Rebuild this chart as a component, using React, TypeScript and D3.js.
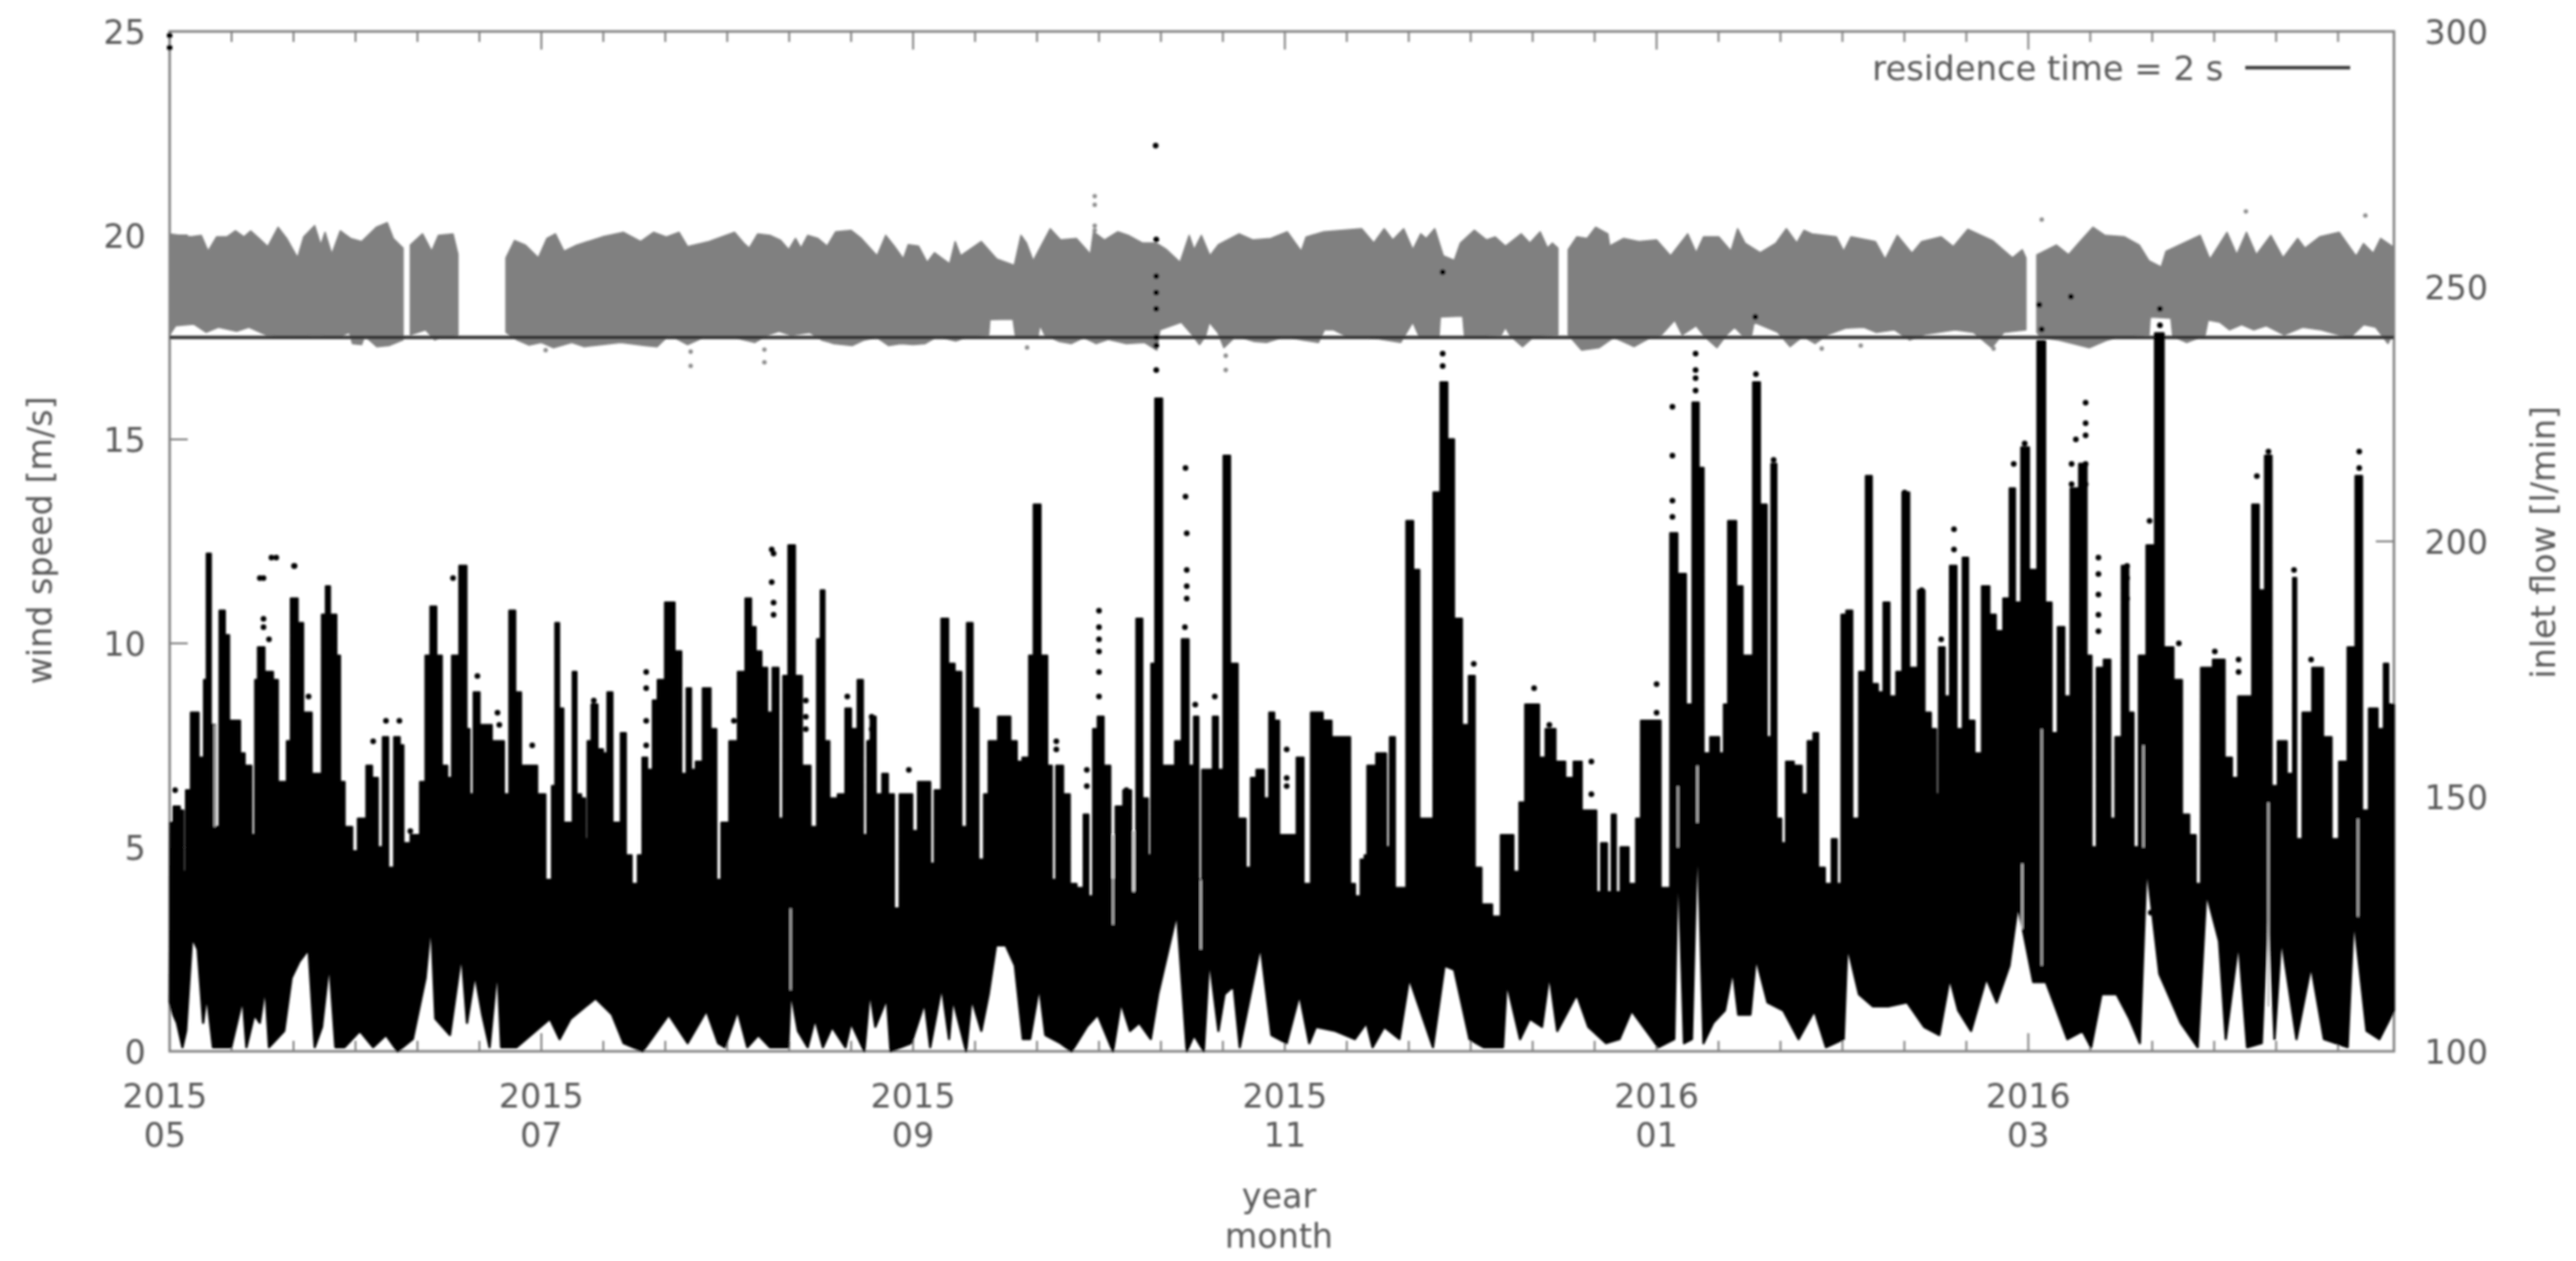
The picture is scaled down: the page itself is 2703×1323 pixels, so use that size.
import React from "react";
import * as d3 from "d3";

// day = days since 2015-05-01; wind speed in m/s; flow in l/min
const xMajorDays = [0, 61, 122, 183, 244, 305];
const xYears = ["2015", "2015", "2015", "2015", "2016", "2016"];
const xMonths = ["05", "07", "09", "11", "01", "03"];
const legendLabel = "residence time = 2 s";
const residenceFlow = 240;

const windTop: number[][] = [
[0.1,5.6],[1.2,6.0],[2.1,5.9],[2.4,4.4],[3.0,6.4],[4.0,8.3],[5.5,7.2],[5.8,9.1],[6.4,12.2],[7.1,8.0],[7.8,5.5],[8.6,10.8],[9.5,10.2],[10.0,8.1],[11.4,8.1],[11.7,7.3],[12.9,7.0],[13.9,5.3],[14.2,9.1],[14.8,9.9],[16.3,9.3],[17.6,9.1],[17.9,6.6],[19.1,6.6],[19.4,7.6],[20.4,11.1],[21.6,10.5],[22.2,8.3],[24.4,6.8],[25.6,10.7],[25.7,11.4],[26.9,10.7],[27.8,9.7],[28.1,6.6],[29.3,5.5],[30.6,4.9],[31.2,5.7],[31.9,5.7],[32.7,7.0],[33.7,6.7],[34.6,5.0],[35.4,7.7],[36.3,4.5],[37.4,7.7],[38.1,7.5],[38.6,5.1],[40.5,5.3],[41.7,6.6],[42.3,9.7],[43.3,10.9],[44.2,9.7],[45.1,7.0],[46.0,6.7],[46.7,9.7],[48.4,11.9],[49.0,7.9],[49.4,6.3],[50.4,8.8],[51.3,8.0],[54.4,7.6],[55.3,6.3],[56.2,10.8],[57.2,8.8],[58.1,7.0],[59.7,7.0],[60.9,6.3],[62.4,4.2],[63.1,6.5],[63.5,10.5],[64.3,8.4],[64.9,5.6],[65.8,5.6],[66.5,9.3],[67.0,6.3],[68.0,6.2],[68.3,5.2],[68.9,7.6],[69.6,8.5],[70.8,7.4],[71.4,7.3],[72.3,8.8],[73.0,5.6],[73.6,5.6],[74.5,7.8],[75.2,4.8],[76.4,4.1],[77.3,4.8],[77.9,7.2],[78.8,6.9],[79.8,8.6],[80.4,9.1],[82.2,11.0],[83.5,9.8],[84.4,6.8],[85.3,8.9],[85.8,6.9],[86.9,7.1],[88.1,8.9],[89.4,7.9],[90.0,4.2],[91.1,5.6],
[92.6,7.6],[93.9,9.3],[95.1,11.1],[95.7,10.4],[96.6,9.8],[97.6,9.4],[98.5,8.3],[99.4,9.4],[100.4,5.7],[101.0,9.2],[102.1,12.4],[103.1,9.2],[104.4,7.0],[105.9,5.5],[106.6,10.1],[107.1,11.3],[107.8,7.6],[108.7,6.2],[110.6,6.3],[111.2,8.4],[112.4,7.9],[113.4,9.1],[114.1,5.3],[114.9,7.6],[115.2,8.2],[116.5,6.3],[117.4,6.8],[118.3,6.3],[119.4,3.5],[120.2,6.3],[121.4,6.3],[122.3,5.4],[123.3,6.6],[124.5,6.6],[125.1,4.6],[126.0,6.4],[127.3,10.6],[128.2,9.5],[129.4,9.3],[130.4,5.5],[131.3,10.5],[132.2,8.4],[133.2,4.7],[134.1,6.3],[134.7,7.6],[137.2,8.2],[138.7,7.6],[139.3,7.1],[140.6,7.2],[141.5,9.7],[142.1,13.4],[143.7,9.7],[144.3,7.0],[145.2,4.2],[145.8,7.0],[147.4,6.3],[148.0,4.1],[149.6,4.0],[150.4,5.8],[151.1,3.8],[152.0,7.9],[152.6,8.2],[153.9,7.0],[154.8,4.2],[155.7,6.0],[157.3,6.4],[158.2,3.9],[159.1,10.6],[160.1,6.2],[160.9,4.8],[161.3,9.5],[162.2,16.0],[163.5,7.0],[164.4,7.0],[165.6,7.6],[166.6,10.1],[167.8,7.0],[168.4,8.2],[169.2,4.2],[169.7,6.9],[170.9,6.9],[171.5,8.2],[172.5,6.9],[173.4,14.6],[174.6,9.5],[175.9,5.7],[177.2,4.5],[177.7,6.7],[179.0,6.9],[180.1,6.2],[180.8,8.3],[181.7,8.1],[182.4,5.3],[184.5,5.3],[185.4,7.2],[186.7,4.1],[187.9,8.3],
[188.1,8.3],[190.3,8.1],[191.0,7.7],[193.5,7.7],[193.9,4.1],[195.1,3.8],[195.8,4.7],[196.4,4.8],[196.7,7.0],[199.3,7.3],[199.9,5.0],[200.6,7.7],[201.5,4.0],[202.5,4.0],[203.4,13.0],[204.7,11.8],[205.4,5.7],[206.9,5.7],[207.9,13.7],[209.2,16.4],[210.1,15.0],[211.4,10.6],[212.7,8.0],[213.7,9.2],[214.6,4.5],[215.9,3.6],[218.1,3.3],[218.8,5.3],[220.0,5.3],[221.0,4.4],[222.0,6.1],[222.9,8.5],[224.2,8.5],[225.2,7.2],[226.4,7.9],[228.4,7.1],[229.6,6.7],[231.2,7.1],[232.2,5.9],[233.8,5.9],[234.4,3.9],[235.4,5.1],[236.3,3.9],[237.0,5.8],[237.6,3.9],[238.6,5.0],[240.2,4.1],[241.1,5.7],[241.8,8.1],[244.3,8.1],[245.0,4.0],[245.9,4.0],[246.6,12.7],[248.2,11.7],[249.4,8.5],[250.4,15.9],[251.4,14.3],[252.0,7.3],[253.6,7.7],[254.9,7.3],[255.2,8.5],[256.3,13.0],[257.8,11.4],[258.4,9.7],[259.4,9.7],[260.3,16.4],[261.6,13.4],[262.5,7.7],[263.2,14.4],[264.1,5.7],[264.8,5.1],[265.7,7.1],[267.3,7.0],[268.3,6.3],[269.3,7.6],[270.2,7.8],[270.8,4.5],[272.4,4.1],[273.1,5.2],[274.0,4.1],[274.7,10.7],[275.6,10.8],[276.6,5.7],[277.9,9.3],[278.8,14.1],[279.8,9.0],[280.8,8.8],[281.7,11.0],[282.7,8.7],[284.0,9.3],[284.7,13.7],
[286.2,9.4],[287.6,11.3],[288.3,8.3],[289.7,7.9],[290.0,6.3],[290.7,9.9],[291.8,8.7],[292.5,11.9],[293.9,7.9],[294.6,12.1],[295.6,8.1],[296.7,7.3],[298.1,11.4],[299.1,10.7],[300.2,10.3],[301.6,11.1],[302.3,13.8],[303.3,11.0],[304.4,14.8],[305.8,11.8],[307.2,17.4],[308.3,11.0],[309.3,7.8],[310.4,10.4],[311.4,8.7],[312.5,13.8],[314.2,14.4],[314.9,9.7],[315.8,5.0],[316.7,9.4],[318.1,9.6],[318.8,5.7],[319.8,7.7],[320.9,11.9],[321.9,8.3],[322.6,5.0],[323.7,9.7],[325.1,12.4],[326.5,17.6],[327.9,9.9],[329.7,9.1],[330.7,5.8],[332.1,5.3],[332.8,4.1],[333.9,9.4],[336.7,9.6],[337.7,7.2],[339.1,6.7],[339.8,8.7],[341.2,8.7],[342.3,13.4],[343.3,11.3],[344.4,14.6],[345.4,6.5],[346.5,7.6],[348.3,6.8],[348.6,11.6],[349.3,5.2],[350.7,8.3],[352.5,9.4],[354.2,7.7],[355.3,5.2],[356.7,7.1],[358.1,9.9],[359.3,14.1],[360.2,5.9],[361.6,8.4],[363.0,7.9],[363.7,9.5],[364.4,8.5],[365.0,8.5]];

const windBottom: number[][] = [
[0,1.2],[0.6,0.9],[1.2,0.7],[2.1,0.1],[2.7,0.5],[3.7,2.8],[4.6,2.5],[5.5,0.7],[6.1,1.4],[7.1,0.1],[10.1,0.1],[12.0,1.3],[12.6,0.1],[13.9,0.9],[14.8,0.7],[15.7,1.6],[16.3,0.1],[18.8,0.5],[20.0,1.8],[21.3,2.2],[22.8,2.5],[23.8,0.1],[25.0,0.6],[26.2,2.2],[27.2,0.1],[28.7,0.1],[31.2,0.5],[33.4,0.1],[35.5,0.4],[37.4,0],[39.9,0.3],[42.0,1.8],[42.9,3.2],[43.6,0.8],[46.0,0.4],[47.9,2.4],[48.8,0.7],[50.1,1.9],[51.3,0.9],[52.5,0.1],[53.8,2.1],[54.4,0.1],[56.9,0.1],[62.4,0.8],[64.0,0.3],[65.8,0.8],[69.9,1.3],[72.6,0.9],[74.5,0.2],[77.6,0],[81.9,0.9],[85.0,0.2],[88.1,1.0],[90.0,0.2],
[91.1,0.1],[93.2,1.0],[94.8,0.1],[96.6,0.4],[98.5,0.1],[101.5,0.1],[101.9,1.5],[103.1,0.5],[104.7,0.1],[105.9,0.8],[107.2,0.1],[108.7,0.6],[110.9,0.1],[111.8,0.7],[114.0,0],[114.9,1.5],[115.8,0.6],[117.7,1.3],[118.3,0],[121.7,0.2],[123.9,1.2],[124.8,0.1],[126.7,1.6],[127.9,0.3],[128.5,1.3],[130.7,0],[131.6,1.3],[133.2,0.5],[134.4,1.4],[135.6,2.6],[137.2,2.6],[138.7,2.1],[140.0,0.3],[141.2,0.3],[142.7,1.6],[143.7,0.4],[146.2,0.2],[148.0,0],[150.5,0.6],[152.3,0.9],[154.8,0],[156.1,1.2],[157.6,0.5],[159.1,0.7],[161.0,0.3],[162.2,1.4],[165.3,3.4],[166.9,0],[168.1,0.4],[169.7,0],[170.6,2.3],[172.1,0.5],[173.1,1.4],[174.6,1.6],[175.6,0.1],[179.0,2.6],[180.8,0.4],[183.3,0.2],[185.4,1.4],[187.0,0.2],
[188.1,0.6],[191.3,0.5],[194.5,0.3],[196.4,0.7],[197.4,0.1],[199.3,0.6],[201.8,0.3],[203.4,1.8],[207.3,0.1],[209.2,2.1],[210.8,2.0],[213.3,0.3],[215.6,0.1],[218.8,0.1],[219.4,1.7],[221.6,0.3],[223.2,0.8],[225.2,0.6],[226.4,1.9],[227.7,0.5],[230.9,1.4],[232.8,0.6],[235.7,0.2],[237.9,0.3],[239.9,1.0],[244.3,0.1],[246.9,0.3],[247.5,5.0],[248.5,0.2],[249.8,0.3],[250.7,5.6],[251.7,0.2],[253.3,0.7],[255.2,1.0],[256.5,2.0],[257.4,0.9],[259.4,0.9],[260.3,2.3],[262.2,1.2],[264.8,1.0],[267.3,0.3],[269.9,1.0],[271.8,0.1],[274.7,0.3],[275.3,2.6],[277.2,1.4],[279.5,1.1],[282.0,1.1],
[285.1,1.2],[287.9,0.6],[290.4,0.4],[292.1,1.8],[293.5,1.0],[295.6,0.5],[298.1,1.8],[299.8,1.2],[301.9,2.1],[303.3,3.6],[305.8,1.7],[307.9,1.7],[311.4,0.3],[313.9,0.5],[315.3,0.1],[317.0,1.4],[319.5,1.4],[321.6,0.8],[323.3,0.2],[324.4,4.6],[326.5,1.9],[330.0,0.7],[332.8,0.1],[334.2,3.9],[336.3,2.7],[337.4,0.3],[339.5,2.7],[340.9,0.1],[343.3,0.2],[344.4,4.0],[345.4,0.3],[346.5,2.8],[349.0,0.3],[351.4,2.1],[353.5,0.3],[357.4,0.1],[358.4,3.3],[360.5,0.5],[362.6,0.3],[365.0,1.0]];

const windDots: number[][] = [
[0,24.9],[0,24.6],[161.8,22.2],[161.9,19.9],[161.9,19.0],[161.9,18.6],[161.9,18.2],[161.9,17.5],[161.9,17.3],[161.9,16.7],
[16.7,12.1],[14.8,11.6],[20.4,11.9],[15.4,11.6],[17.5,12.1],[20.5,11.9],[15.4,10.6],[15.4,10.4],[16.3,10.1],[0.9,6.4],[22.8,8.7],[35.5,8.1],[37.7,8.1],[33.4,7.6],[46.5,11.6],[50.5,9.2],[53.8,8.3],[54.1,8.0],[59.5,7.5],[78.2,9.3],[78.2,8.9],[78.2,8.1],[78.2,7.5],[69.6,8.6],[69.6,8.4],[39.5,5.4],[13.2,5.2],[18.5,6.1],
[92.6,8.1],[98.8,12.3],[99.1,12.2],[98.8,11.5],[99.1,11.0],[99.1,10.7],[102.2,11.8],[102.2,11.5],[104.4,8.6],[104.4,7.9],[104.4,8.2],[111.2,8.7],[115.2,8.2],[115.2,7.9],[115.2,7.6],[121.3,6.9],[145.5,7.6],[145.5,7.4],[150.5,6.9],[150.5,6.5],[152.5,10.8],[152.5,10.4],[152.5,10.1],[152.5,9.8],[152.5,9.3],[152.5,8.7],[166.7,14.3],[166.7,13.6],[166.9,12.7],[166.9,11.8],[166.9,11.4],[166.9,11.1],[166.6,10.4],[168.3,8.5],[171.5,8.7],[183.3,7.4],[183.3,6.7],[183.3,6.5],[157,6.4],
[208.9,19.1],[208.9,17.1],[208.9,16.8],[214,9.5],[223.9,8.9],[226.4,8.0],[233.3,7.1],[233.3,6.3],[244,9.0],[244,8.3],[246.6,15.8],[246.6,14.6],[246.6,13.5],[246.6,13.1],[250.4,17.1],[250.4,16.7],[250.4,16.5],[250.4,16.2],[260.2,18.0],[260.3,16.6],[263.2,14.5],[278.8,13.4],[278.8,12.8],[284.7,13.7],[287.5,11.3],[287.5,10.8],
[292.8,12.8],[292.8,12.3],[292.8,11.8],[290.7,10.1],[302.6,14.4],[304.4,14.9],[304.4,14.5],[304.4,14.1],[306.8,18.3],[307.2,17.7],[312,18.5],[326.6,18.2],[326.6,17.8],[314.4,15.9],[314.4,15.4],[312.8,15.0],[312.1,14.4],[314.4,15.1],[314.4,14.4],[314.4,13.9],[312.1,13.9],[316.5,12.1],[316.5,11.7],[316.5,11.2],[316.5,10.7],[316.5,10.3],[321.2,11.9],[321.2,11.6],[321.2,11.1],[324.9,13.0],[329.7,10.0],[335.6,9.8],[339.5,9.6],[339.5,9.3],[342.5,14.1],[344.4,14.7],[348.6,11.8],[359.3,14.7],[359.3,14.3],[351.4,9.6],[325.1,3.4]];

// thin pale slits seen inside the black mass: [day, from, to]
const windSlits: number[][] = [
[7.4,5.5,8.0],[101.9,1.5,3.5],[154.8,3.1,5.3],[158.2,3.9,5.4],[169.2,2.5,4.2],[307.2,2.1,7.9],[344.4,1.1,6.1],[359.1,3.3,5.7],[304,3.0,4.6],[247.5,5.0,6.5],[250.7,5.6,7.0],[323.9,5.0,7.5]];

const flowTop: number[][] = [
[0,260.3],[1.7,260],[3.5,259.7],[5.2,260],[6.3,256.9],[7.7,259.7],[9.4,259.7],[10.8,260.9],[12.2,259.7],[13.3,260.9],[14.7,259.4],[16.1,257.8],[17.8,261.6],[19.2,259.4],[21,255.6],[22,259.7],[23.8,261.9],[24.8,258.1],[25.5,260.6],[26.6,256.3],[28,260.9],[29.7,259.4],[31.5,258.8],[33.9,261.6],[35.7,262.5],[36.7,259.4],[38.3,257.5],[39.5,258.1],[41.5,260.3],[43,256.9],[44.1,260],[46.5,260.3],[47.3,256.3],[55.2,255.6],[56.6,259],[58.4,258.1],[60.5,255.6],[61.9,259.4],[63.3,260.3],[64.7,256.9],[66.8,258.1],[71,259.7],[74.5,260.6],[77.3,258.8],[79.4,260.6],[81.5,259.7],[83.6,260.6],[85,257.8],[88.5,258.8],[92.7,260.6],
[94.2,258.5],[95.1,257.5],[96.5,260.3],[98.5,260],[100.2,259.1],[101.6,257.2],[102.7,259.4],[103.6,257.5],[104.7,260],[106.4,259.4],[107.9,257.9],[109.3,260.7],[111.8,261],[113.5,259.4],[116.1,256],[117.5,260],[118.9,257.9],[120.4,255.4],[121.2,258.2],[122.9,257.9],[124.3,254.7],[125.5,256.6],[128,254.4],[128.9,258.8],[129.8,256],[133.2,258.8],[135.7,255.4],[138.6,254.1],[139.7,260],[140.6,258.5],[141.7,255],[144.5,261.3],[146.2,259.1],[148.8,259.4],[151.1,256.3],[151.6,260.7],[153.4,259.1],[155.6,260.7],[157.3,260],[159.6,258.5],[161.9,258.5],[163.6,257.2],[165.8,254.7],[167.3,260],[168.1,257.2],[169.3,260],[170.7,256],[172.1,258.2],[175.5,260.3],[177.8,259.1],[180.7,259.4],[183.4,260.7],
[185.7,256.9],[186.5,259.7],[189.4,260.7],[195.6,261.3],[197.6,258.5],[199.3,261.3],[200.7,259.1],[202.5,261.3],[204,257.2],[205.3,260.3],[206.2,259.4],[207.6,261.3],[209,256],[210.8,255.1],[211.8,258.5],[214.1,261],[216.1,259.1],[217.5,259.7],[219.2,257.9],[221.8,260.3],[223.2,258.5],[224.9,260.7],[226.1,257.5],[226.9,258.5],[227.8,257.5],[229.5,257.2],[230.9,259.7],[232.6,259.4],[234,261.6],[236,260.3],[236.3,257.9],[238.6,259.4],[241.1,258.8],[244,259.1],[246.3,256],[249.1,260.3],[250.5,256.6],[251.7,259.7],[254.2,259.7],[256.2,256.9],[257.3,261.3],[258.5,258.5],[261,256.6],[263.6,258.5],[265.3,261.3],[267,258.5],[268.2,261],
[269.5,260.3],[273.5,259.7],[274.7,256.9],[275.9,259.7],[279.9,258.8],[281.5,255.3],[283.5,260],[285.9,256.5],[287.5,258.8],[290.7,259.7],[292.7,257.8],[295.1,261.2],[299.1,259],[302.4,255.6],[304,257.2],[304.6,255.6],[306.4,256.2],[309.6,258.1],[311.6,256.2],[313.2,258.4],[315.6,261.6],[317.6,260],[320.8,259.7],[323.2,258.1],[324.8,255],[326.8,253.8],[327.6,256.9],[333.2,260],[334.8,255.3],[337.6,260.6],[339.2,256.2],[340.8,260.6],[342.4,256.2],[344.8,260],[346.8,255.6],[349.2,259.4],[350.4,257.5],[352.8,259.7],[356,260.6],[358.8,255.9],[360,258.4],[361.6,256.5],[362.8,259.4],[364.8,257.8],[365,258]];

const flowBottom: number[][] = [
[0,240.5],[1,242.3],[4,242.6],[6,241],[8,242],[11,241.2],[13,242],[16,240.4],[20,240.2],[24,240.4],[28,240.2],[29.5,241],[30,238.8],[31.5,238.6],[32,240.3],[34,238.2],[36,238.4],[38.3,239.5],[39.5,240.5],[42,241.5],[43.5,239.5],[45,240.2],[47.3,240.4],[55.2,241],[57,239.5],[59,238.5],[61,239],[63,238],[66,239],[68,238.2],[71,238.6],[74,239],[78,238.4],[80,238.2],[82,240.5],[85,238.6],[88,240.2],[92,240.2],[96,239],[98,240.4],[100,241.2],[102,240.4],[105,241],[107,239.5],[109,238.8],[112,238.4],[114,239.5],[116,240],[118,238.4],[120,238.8],[122,238.6],[124,238.8],[126,240.2],[129,239.3],[131,240.2],[134.4,240.5],[134.6,243.5],[138.4,243.6],[138.8,240.2],[141,240],[142.5,240.2],[142.8,242.5],[143.6,240.5],[146,239.2],[148,238.8],[150,240],[152,238.8],[154,239.6],[157,238.8],[160,239],[162,237.5],[162.5,241.5],[166,243],[167.6,240.8],[169,238.6],[170,240.3],[170.6,243],[172,241],[173,238],[175,240.3],[178,239.2],[180,239],[183,240.2],[186,239.5],
[188.5,239],[189.5,241.5],[191,241.5],[193,240.3],[198,239.8],[202,239],[204,243],[205,240.3],[208.3,240.3],[208.5,244],[212.2,244.2],[212.5,240],[215,240.3],[218.5,240.5],[219.2,242],[220,240.3],[222,238.2],[224,240.3],[227.8,240.5],[229.5,240.5],[231.7,237.5],[234.6,238],[237,240],[240.3,238.2],[243,240],[244.8,240.5],[247,243.4],[248.2,240.5],[250.5,242.3],[252,240],[253.9,238],[255.5,240.5],[256.8,242],[258,240.5],[259.6,240.5],[260,243],[263.9,241],[265.9,238.2],[268,240.2],[270,238.8],[272,240.5],[275,241.8],[278,242],[280,241],[283,241.5],[285.5,239.5],[288,240.6],[293,241.5],[296,241],[299,238],[301,241],[304.6,241.5],[306.4,241],[307,240],[310,239.5],[315,238],[318,239.5],[320,240.2],[324.8,240.5],[325,244],[328.4,243.8],[328.7,240.2],[331,239],[334,240.4],[334.5,243.4],[336.4,243],[338,241.5],[340,242.5],[342,241.5],[344,242.3],[347,240.5],[350,242],[353,241.5],[356,240.5],[358,240.2],[360,242.5],[362,242],[364,238.8],[365,241]];

const flowSegments: number[][] = [[0, 38.3], [39.5, 47.3], [55.2, 227.8], [229.5, 304.6], [306.4, 365]];

const flowDots: number[][] = [
[151.8,267.7],[151.8,266],[151.8,261.9],[151.8,261],[97.6,237.6],[97.6,235.1],[140.7,238],[173.3,233.6],[173.3,236.4],[307.2,263.1],[340.7,264.7],[360.3,263.9],[271.1,237.8],[277.5,238.4],[299.3,237.8],[85.5,237.2],[85.5,234.4],[61.7,237.5]];

const W = 2703, H = 1323;
const L = 178, R = 2512, T = 33, B = 1103;
const FONT = "'DejaVu Sans', sans-serif";
const INK = "#5a5a5a";
const AXIS = "#808080";

export default function App() {
  const x = d3.scaleLinear().domain([0, 365]).range([L, R]);
  const yWind = d3.scaleLinear().domain([0, 25]).range([B, T]);
  const yFlow = d3.scaleLinear().domain([100, 300]).range([B, T]);

  const minorTicks = d3.range(0, 365, 61 / 6);
  const windStep = d3.line<number[]>().x((d) => x(d[0])).y((d) => yWind(d[1])).curve(d3.curveStep);
  const windLine = d3.line<number[]>().x((d) => x(d[0])).y((d) => yWind(d[1]));
  const flowLine = d3.line<number[]>().x((d) => x(d[0])).y((d) => yFlow(d[1]));

  // upper edge as columns, lower edge as straight runs
  const windPath =
    windStep(windTop) + "L" + (windLine([...windBottom].reverse()) as string).slice(1) + "Z";
  const flowPaths = flowSegments.map(([a, b]) => {
    const inSeg = (d: number[]) => d[0] >= a && d[0] <= b;
    return flowLine([...flowTop.filter(inSeg), ...flowBottom.filter(inSeg).reverse()]) + "Z";
  });

  return (
    <svg
      width={W}
      height={H}
      viewBox={`0 0 ${W} ${H}`}
      style={{ position: "absolute", left: 0, top: 0, background: "#fff" }}
      fontFamily={FONT}
    >
      <defs>
        <filter id="soft" filterUnits="userSpaceOnUse" x={0} y={0} width={W} height={H}>
          <feGaussianBlur stdDeviation={0.9} />
        </filter>
      </defs>
      <rect width={W} height={H} fill="#fff" />
      <g filter="url(#soft)">
        <rect x={L} y={T} width={R - L} height={B - T} fill="none" stroke={AXIS} strokeWidth={2.6} />
        {minorTicks.map((t, i) => {
          const len = i % 6 === 0 ? 19 : 11;
          return (
            <g key={i} stroke={AXIS} strokeWidth={2}>
              <line x1={x(t)} x2={x(t)} y1={B} y2={B - len} />
              <line x1={x(t)} x2={x(t)} y1={T} y2={T + len} />
            </g>
          );
        })}
        {yWind.ticks(5).map((v) => (
          <g key={v}>
            <line x1={L} x2={L + 19} y1={yWind(v)} y2={yWind(v)} stroke={AXIS} strokeWidth={2} />
            <text x={153} y={yWind(v) + 13} textAnchor="end" fontSize={35} fill={INK}>{v}</text>
          </g>
        ))}
        {yFlow.ticks(4).map((v) => (
          <g key={v}>
            <line x1={R - 19} x2={R} y1={yFlow(v)} y2={yFlow(v)} stroke={AXIS} strokeWidth={2} />
            <text x={2544} y={yFlow(v) + 13} textAnchor="start" fontSize={35} fill={INK}>{v}</text>
          </g>
        ))}

        {flowPaths.map((d, i) => (
          <path key={i} d={d} fill="#808080" stroke="#808080" strokeWidth={1.5} strokeLinejoin="round" />
        ))}
        {flowDots.map((d, i) => (
          <circle key={i} cx={x(d[0])} cy={yFlow(d[1])} r={2.4} fill="#8c8c8c" />
        ))}
        <line x1={L} x2={R} y1={yFlow(residenceFlow)} y2={yFlow(residenceFlow)} stroke="#2e2e2e" strokeWidth={3.5} />
        <path d={windPath} fill="#000" stroke="#000" strokeWidth={2.4} strokeLinejoin="round" />
        {windDots.map((d, i) => (
          <circle key={i} cx={x(d[0])} cy={yWind(d[1])} r={3} fill="#000" />
        ))}
        {windSlits.map((d, i) => (
          <line key={i} x1={x(d[0])} x2={x(d[0])} y1={yWind(d[1])} y2={yWind(d[2])} stroke="#bdbdbd" strokeWidth={2} />
        ))}

        {xMajorDays.map((d, i) => (
          <g key={d} textAnchor="middle" fontSize={35} fill={INK}>
            <text x={x(d) - (i === 0 ? 5 : 0)} y={1162}>{xYears[i]}</text>
            <text x={x(d) - (i === 0 ? 5 : 0)} y={1203}>{xMonths[i]}</text>
          </g>
        ))}
        <text x={1342} y={1267} textAnchor="middle" fontSize={35} fill={INK}>year</text>
        <text x={1342} y={1309} textAnchor="middle" fontSize={35} fill={INK}>month</text>
        <text transform="translate(54,567) rotate(-90)" textAnchor="middle" fontSize={35} fill={INK}>wind speed [m/s]</text>
        <text transform="translate(2681,569) rotate(-90)" textAnchor="middle" fontSize={35} fill={INK}>inlet flow [l/min]</text>
        <text x={2333} y={84} textAnchor="end" fontSize={35.5} fill={INK}>{legendLabel}</text>
        <line x1={2356} x2={2466} y1={71} y2={71} stroke="#333" strokeWidth={3.5} />
      </g>
    </svg>
  );
}
